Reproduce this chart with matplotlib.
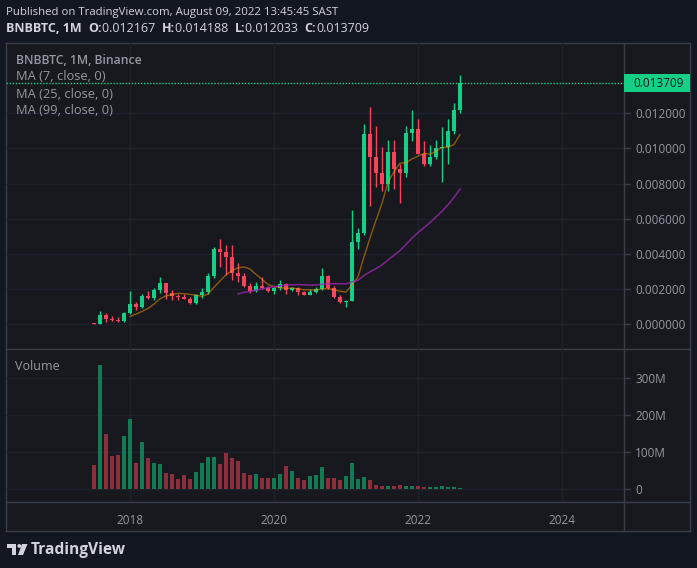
import numpy as np
import pandas as pd
import matplotlib
matplotlib.use("Agg")
from matplotlib import pyplot as plt
from matplotlib.patches import Rectangle, Polygon, Circle
from matplotlib.transforms import blended_transform_factory

# BNBBTC monthly candles, Jul 2017 .. Aug 2022
months = pd.period_range("2017-07", "2022-08", freq="M")
opens = [0.00008, 0.00002, 0.00053, 0.00030, 0.00026, 0.00020, 0.00064, 0.00115, 0.00098, 0.00160,
         0.00150, 0.00195, 0.00235, 0.00180, 0.00160, 0.00155, 0.00146, 0.00120, 0.00166, 0.00184,
         0.00275, 0.00428, 0.00410, 0.00385, 0.00292, 0.00275, 0.00218, 0.00190, 0.00218, 0.00205,
         0.00190, 0.00205, 0.00229, 0.00195, 0.00205, 0.00182, 0.00168, 0.00184, 0.00202, 0.00275,
         0.00206, 0.00155, 0.00127, 0.00135, 0.00470, 0.00520, 0.01080, 0.00950, 0.00860, 0.00800,
         0.00980, 0.00885, 0.00860, 0.01090, 0.01110, 0.00970, 0.00910, 0.00950, 0.01000, 0.01010,
         0.01100, 0.012167]
highs = [0.00009, 0.00076, 0.00064, 0.00047, 0.00040, 0.00069, 0.00189, 0.00127, 0.00172, 0.00189,
         0.00208, 0.00269, 0.00237, 0.00195, 0.00172, 0.00170, 0.00157, 0.00170, 0.00206, 0.00293,
         0.00440, 0.00485, 0.00451, 0.00451, 0.00349, 0.00292, 0.00235, 0.00240, 0.00269, 0.00220,
         0.00210, 0.00250, 0.00235, 0.00210, 0.00210, 0.00190, 0.00200, 0.00210, 0.00320, 0.00280,
         0.00218, 0.00167, 0.00138, 0.00650, 0.00550, 0.01140, 0.01236, 0.01130, 0.01010, 0.01050,
         0.01050, 0.00910, 0.01130, 0.01220, 0.01170, 0.01040, 0.01020, 0.01050, 0.01120, 0.01170,
         0.01260, 0.014188]
lows = [0.00001, 0.00002, 0.00011, 0.00019, 0.00015, 0.00015, 0.00060, 0.00081, 0.00093, 0.00142,
        0.00138, 0.00180, 0.00142, 0.00138, 0.00138, 0.00144, 0.00118, 0.00118, 0.00150, 0.00172,
        0.00263, 0.00328, 0.00280, 0.00252, 0.00240, 0.00212, 0.00178, 0.00185, 0.00200, 0.00182,
        0.00174, 0.00195, 0.00172, 0.00190, 0.00167, 0.00166, 0.00166, 0.00180, 0.00197, 0.00200,
        0.00150, 0.00120, 0.00098, 0.00133, 0.00430, 0.00510, 0.00670, 0.00780, 0.00760, 0.00760,
        0.00770, 0.00690, 0.00840, 0.01040, 0.00970, 0.00900, 0.00900, 0.00940, 0.00810, 0.00910,
        0.01080, 0.012033]
closes = [0.00002, 0.00053, 0.00030, 0.00026, 0.00020, 0.00064, 0.00115, 0.00098, 0.00160, 0.00150,
          0.00195, 0.00235, 0.00180, 0.00160, 0.00155, 0.00146, 0.00120, 0.00166, 0.00184, 0.00275,
          0.00428, 0.00410, 0.00385, 0.00292, 0.00275, 0.00218, 0.00190, 0.00218, 0.00205, 0.00190,
          0.00205, 0.00229, 0.00195, 0.00205, 0.00182, 0.00168, 0.00184, 0.00202, 0.00275, 0.00206,
          0.00155, 0.00127, 0.00135, 0.00470, 0.00520, 0.01080, 0.00950, 0.00860, 0.00800, 0.00980,
          0.00885, 0.00860, 0.01090, 0.01110, 0.00970, 0.00910, 0.00950, 0.01000, 0.01010, 0.01100,
          0.012167, 0.013709]
volume_m = [65, 336, 148, 88, 91, 142, 190, 70, 126, 83,
            70, 67, 43, 40, 27, 38, 27, 46, 70, 86,
            86, 67, 97, 83, 75, 43, 38, 40, 31, 30,
            30, 40, 62, 48, 30, 24, 35, 38, 59, 30,
            30, 24, 35, 70, 27, 32, 24, 11, 8, 8,
            8, 11, 8, 8, 8, 5, 5, 5, 8, 5,
            5, 3]
price_ticks = [0.0, 0.002, 0.004, 0.006, 0.008, 0.010, 0.012]
volume_ticks = [0, 100, 200, 300]
volume_labels = ["0", "100M", "200M", "300M"]
year_labels = ["2018", "2020", "2022", "2024"]

UP, DOWN = "#16cf87", "#f5455c"
VOL_UP, VOL_DOWN = "#137a53", "#8b2f3d"
BG_OUT, BG_IN = "#131722", "#17191f"
BORDER, GRID = "#3a3e48", "#1f222a"
TXT, AXTXT = "#d1d4dc", "#9598a1"
FONT = "Open Sans"

W, H = 697, 568
plt.rc("font", family=FONT)

o, h, l, c = map(np.array, (opens, highs, lows, closes))
idx = np.arange(len(months))
up = c >= o
ma7 = pd.Series(c).rolling(7).mean()
ma25 = pd.Series(c).rolling(25).mean()
ma99 = pd.Series(c).rolling(99).mean()
year_idx = [(int(y) - 2017) * 12 - 6 for y in year_labels]

fig = plt.figure(figsize=(W / 100, H / 100), dpi=100, facecolor=BG_OUT)


def fax(x0, y0, x1, y1, **kw):
    # axes from pixel box (top-left origin)
    return fig.add_axes([x0 / W, 1 - y1 / H, (x1 - x0) / W, (y1 - y0) / H], **kw)


def pixel_overlay(z):
    a = fax(0, 0, W, H, zorder=z)
    a.set_xlim(0, W)
    a.set_ylim(H, 0)
    a.axis("off")
    return a


# background / frame in pixel coordinates
bg = pixel_overlay(0)
bg.add_patch(Rectangle((6, 43), 684, 488, fc=BG_IN, ec="none"))
for seg in [((6, 690), (43, 43)), ((6, 690), (531, 531)), ((6, 6), (43, 531)),
            ((690, 690), (43, 531)), ((624, 624), (43, 531)), ((6, 690), (349, 349)),
            ((6, 690), (502, 502))]:
    bg.plot(seg[0], seg[1], color=BORDER, lw=1)

XL = (-14.67, 88.33)

# price pane
ax = fax(6, 43, 624, 349, zorder=1)
ax.set_facecolor("none")
ax.set_xlim(*XL)
ax.set_ylim(-0.001405, 0.015998)
for s in ax.spines.values():
    s.set_visible(False)
ax.set_xticks(year_idx)
ax.set_xticklabels([])
ax.set_yticks(price_ticks)
ax.set_yticklabels(["%.6f" % t for t in price_ticks])
ax.yaxis.tick_right()
ax.tick_params(axis="y", length=4, width=1, color=BORDER, labelcolor=AXTXT, labelsize=8.5, pad=4)
ax.tick_params(axis="x", length=0)
ax.grid(True, color=GRID, lw=1)
ax.set_axisbelow(True)

cols = np.where(up, UP, DOWN)
ax.vlines(idx, l, h, colors=cols, lw=1, zorder=2)
body = np.maximum(np.abs(c - o), 0.00005)
ax.bar(idx, body, bottom=np.minimum(o, c), width=0.82, color=cols, zorder=3)
ax.plot(idx, ma7, color="#ff9800", alpha=0.5, lw=1.0, zorder=4)
ax.plot(idx, ma25, color="#9c27b0", alpha=0.8, lw=1.1, zorder=4)
ax.plot(idx, ma99, color="#2962ff", lw=1.1, zorder=4)

last = c[-1]
ax.axhline(last, color=UP, lw=1, ls=(0, (1, 1.2)), zorder=1)
tr = blended_transform_factory(ax.transAxes, ax.transData)
ax.add_patch(Rectangle((1.0, last - 0.000512), 66 / 618, 0.001024, transform=tr,
                       fc=UP, ec="none", clip_on=False, zorder=5))
ax.text(1 + 9 / 618, last, "%.6f" % last, transform=tr, va="center", ha="left",
        color="#131722", fontsize=8.5, zorder=6)

# volume pane
av = fax(6, 349, 624, 502, zorder=1)
av.set_facecolor("none")
av.set_xlim(*XL)
av.set_ylim(-35.1, 378.4)
for s in av.spines.values():
    s.set_visible(False)
av.bar(idx, volume_m, width=0.76, color=np.where(up, VOL_UP, VOL_DOWN), zorder=3)
av.set_yticks(volume_ticks)
av.set_yticklabels(volume_labels)
av.yaxis.tick_right()
av.tick_params(axis="y", length=4, width=1, color=BORDER, labelcolor=AXTXT, labelsize=8.5, pad=4)
av.set_xticks(year_idx)
av.set_xticklabels(year_labels)
av.tick_params(axis="x", length=0, labelcolor=AXTXT, labelsize=8.5, pad=9)
av.grid(True, color=GRID, lw=1)
av.set_axisbelow(True)

# texts on top
fg = pixel_overlay(3)
fg.text(6, 13, "Published on TradingView.com, August 09, 2022 13:45:45 SAST",
        color=TXT, fontsize=8.2, va="center", ha="left")
renderer = fig.canvas.get_renderer()
x = 6
parts = [("BNBBTC, 1M  ", "bold"), ("O:", "bold"), ("0.012167  ", "normal"),
         ("H:", "bold"), ("0.014188  ", "normal"), ("L:", "bold"), ("0.012033  ", "normal"),
         ("C:", "bold"), ("0.013709", "normal")]
for s, wgt in parts:
    t = fg.text(x, 29, s, color=TXT, fontsize=9.0, fontweight=wgt, va="center", ha="left")
    x += t.get_window_extent(renderer).width

fg.text(16, 60, "BNBBTC, 1M, Binance", color=AXTXT, fontsize=8.8, fontweight="semibold",
        va="center")
for i, s in enumerate(["MA (7, close, 0)", "MA (25, close, 0)", "MA (99, close, 0)"]):
    fg.text(16, 77 + 17 * i, s, color=AXTXT, fontsize=9.3, va="center")
fg.text(15, 366, "Volume", color=AXTXT, fontsize=9, va="center")

# logo
fg.add_patch(Polygon([(7, 544), (16, 544), (16, 555), (12, 555), (12, 548), (7, 548)],
                     fc=TXT, ec="none"))
fg.add_patch(Circle((19.3, 546), 1.9, fc=TXT, ec="none"))
fg.add_patch(Polygon([(22, 544), (27.5, 544), (23, 555), (18, 555)], fc=TXT, ec="none"))
fg.text(31, 549.5, "TradingView", color=TXT, fontsize=11.2, fontweight="bold", va="center")

fig.savefig("out.png", dpi=100, facecolor=BG_OUT)
